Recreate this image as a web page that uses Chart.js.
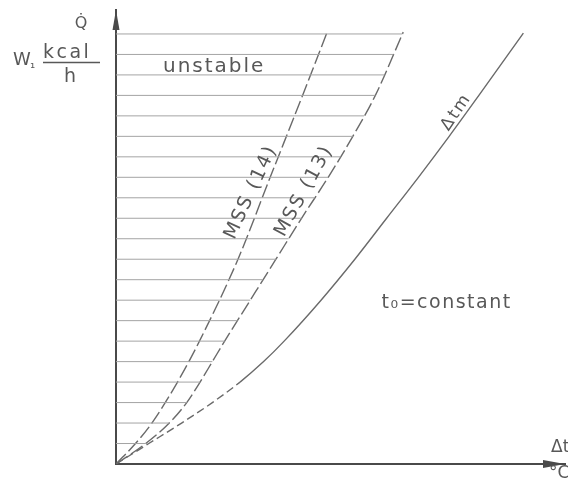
<!DOCTYPE html>
<html>
<head>
<meta charset="utf-8">
<script src="https://cdn.jsdelivr.net/npm/chart.js@4.4.0/dist/chart.umd.min.js"></script>
<style>
  html, body { margin: 0; padding: 0; background: #ffffff; }
  #wrap { width: 568px; height: 491px; }
</style>
</head>
<body>
<div id="wrap"><canvas id="chart" width="568" height="491"></canvas></div>
<script>
// Heat flow Q̇ against temperature difference Δt (relative units, one unit = one hatch step)

// Stability limit MSS (14)
const mss14X = [0, 0.95, 1.75, 3.0, 4.07, 5.95, 7.52, 9.1, 10.3];
const mss14Y = [0, 1, 2, 4, 6, 10, 14, 18, 21.09];

// Stability limit MSS (13)
const mss13X = [0, 1.45, 2.6, 3.45, 4.1, 4.7, 5.3, 6.55, 7.8, 9.05, 10.35, 11.55, 12.65, 14.01];
const mss13Y = [0, 1, 2, 3, 4, 5, 6, 8, 10, 12, 14, 16, 18, 21.09];

// Mean temperature difference Δtm at t₀ = constant
const dtmX = [0, 1.6, 3.2, 4.7, 6.05, 7.2, 8.2, 10.0, 11.65, 13.2, 14.75, 16.25, 17.7, 19.87];
const dtmY = [0, 1, 2, 3, 4, 5, 6, 8, 10, 12, 14, 16, 18, 21.04];

// Heat-flow levels of the hatching in the unstable region
const hatchLevels = [1, 2, 3, 4, 5, 6, 7, 8, 9, 10, 11, 12, 13, 14, 15, 16, 17, 18, 19, 20, 21];

// Axis extents
const xMax = 21.9;
const yMax = 22.17;

const INK = '#585858';
const LINE = '#6a6a6a';
const HATCH = '#a4a4a4';
const FONT = '"DejaVu Sans", sans-serif';

const toPoints = (xs, ys) => xs.map((x, i) => ({ x, y: ys[i] }));

// x position of a curve at a given height (linear between stored points)
function xAtHeight(xs, ys, level) {
  for (let i = 1; i < ys.length; i++) {
    if (level <= ys[i]) {
      const t = (level - ys[i - 1]) / (ys[i] - ys[i - 1]);
      return xs[i - 1] + t * (xs[i] - xs[i - 1]);
    }
  }
  return xs[xs.length - 1];
}

const hatchSets = hatchLevels.map(level => ({
  data: [{ x: 0, y: level }, { x: xAtHeight(mss13X, mss13Y, level), y: level }],
  borderColor: HATCH,
  borderWidth: 1,
  pointRadius: 0,
  tension: 0,
  fill: false
}));

const curveStyle = {
  pointRadius: 0,
  fill: false,
  cubicInterpolationMode: 'monotone',
  borderColor: LINE,
  borderWidth: 1.4
};

// Arrows, axis labels and curve labels
const annotate = {
  id: 'annotate',
  afterDraw(chart, args, opts) {
    const { ctx, chartArea: a, scales: { x, y } } = chart;
    ctx.save();
    ctx.fillStyle = '#4a4a4a';
    // arrow heads on both axes
    ctx.beginPath();
    ctx.moveTo(a.left, a.top);
    ctx.lineTo(a.left - 3.5, a.top + 20);
    ctx.lineTo(a.left + 3.5, a.top + 20);
    ctx.closePath();
    ctx.fill();
    ctx.beginPath();
    ctx.moveTo(a.right, a.bottom);
    ctx.lineTo(a.right - 22, a.bottom - 4);
    ctx.lineTo(a.right - 22, a.bottom + 4);
    ctx.closePath();
    ctx.fill();

    ctx.fillStyle = INK;
    ctx.textBaseline = 'alphabetic';
    const text = (s, px, py, size, spacing, align) => {
      ctx.font = size + 'px ' + FONT;
      ctx.letterSpacing = spacing + 'px';
      ctx.textAlign = align;
      ctx.fillText(s, px, py);
    };
    // y-axis quantity and unit
    text('Q\u0307', a.left - 35, a.top + 18, 16, 0, 'center');
    text('W', a.left - 103, a.top + 55, 18, 0, 'left');
    text('\u2081', a.left - 86, a.top + 58, 13, 0, 'left');
    text('kcal', a.left - 73, a.top + 48, 19, 2.5, 'left');
    text('h', a.left - 46, a.top + 72, 19, 0, 'center');
    ctx.strokeStyle = INK;
    ctx.lineWidth = 1.3;
    ctx.beginPath();
    ctx.moveTo(a.left - 73, a.top + 52.5);
    ctx.lineTo(a.left - 16, a.top + 52.5);
    ctx.stroke();
    // x-axis quantity and unit
    text('\u0394t', a.right - 14, a.bottom - 12, 17, 0, 'left');
    text('\u00B0C', a.right - 16, a.bottom + 14, 17, 0, 'left');

    // labels placed in data coordinates
    for (const n of opts.notes) {
      ctx.save();
      ctx.translate(x.getPixelForValue(n.x), y.getPixelForValue(n.y));
      ctx.rotate(n.angle * Math.PI / 180);
      ctx.font = n.size + 'px ' + FONT;
      ctx.letterSpacing = n.spacing + 'px';
      ctx.textAlign = n.align;
      ctx.textBaseline = n.baseline;
      ctx.fillText(n.text, 0, 0);
      ctx.restore();
    }
    ctx.restore();
  }
};

new Chart(document.getElementById('chart'), {
  type: 'line',
  data: {
    datasets: [
      ...hatchSets,
      { ...curveStyle, label: 'MSS (14)', data: toPoints(mss14X, mss14Y), borderDash: [14, 4] },
      { ...curveStyle, label: 'MSS (13)', data: toPoints(mss13X, mss13Y), borderDash: [14, 4] },
      {
        ...curveStyle, label: '\u0394tm', data: toPoints(dtmX, dtmY),
        segment: { borderDash: c => (c.p1.parsed.y <= 4 ? [8, 4] : []) }
      }
    ]
  },
  options: {
    responsive: false,
    animation: false,
    events: [],
    layout: { padding: { left: 116, top: 10, right: 3, bottom: 27 } },
    scales: {
      x: {
        type: 'linear', min: 0, max: xMax,
        ticks: { display: false },
        grid: { display: false, drawTicks: false },
        border: { display: true, color: '#4a4a4a', width: 2 }
      },
      y: {
        type: 'linear', min: 0, max: yMax,
        ticks: { display: false },
        grid: { display: false, drawTicks: false },
        border: { display: true, color: '#4a4a4a', width: 2 }
      }
    },
    plugins: {
      legend: { display: false },
      tooltip: { enabled: false },
      annotate: {
        notes: [
          { text: 'unstable', x: 2.29, y: 19.14, angle: 0, size: 20, spacing: 2, align: 'left', baseline: 'alphabetic' },
          { text: 'MSS (14)', x: 6.59, y: 13.28, angle: -65, size: 19, spacing: 2, align: 'center', baseline: 'middle' },
          { text: 'MSS (13)', x: 9.18, y: 13.33, angle: -61, size: 19, spacing: 2, align: 'center', baseline: 'middle' },
          { text: '\u0394tm', x: 16.6, y: 17.19, angle: -56, size: 17, spacing: 2, align: 'center', baseline: 'middle' },
          { text: 't\u2080=constant', x: 19.3, y: 7.62, angle: 0, size: 19, spacing: 1.5, align: 'right', baseline: 'alphabetic' }
        ]
      }
    }
  },
  plugins: [annotate]
});
</script>
</body>
</html>
